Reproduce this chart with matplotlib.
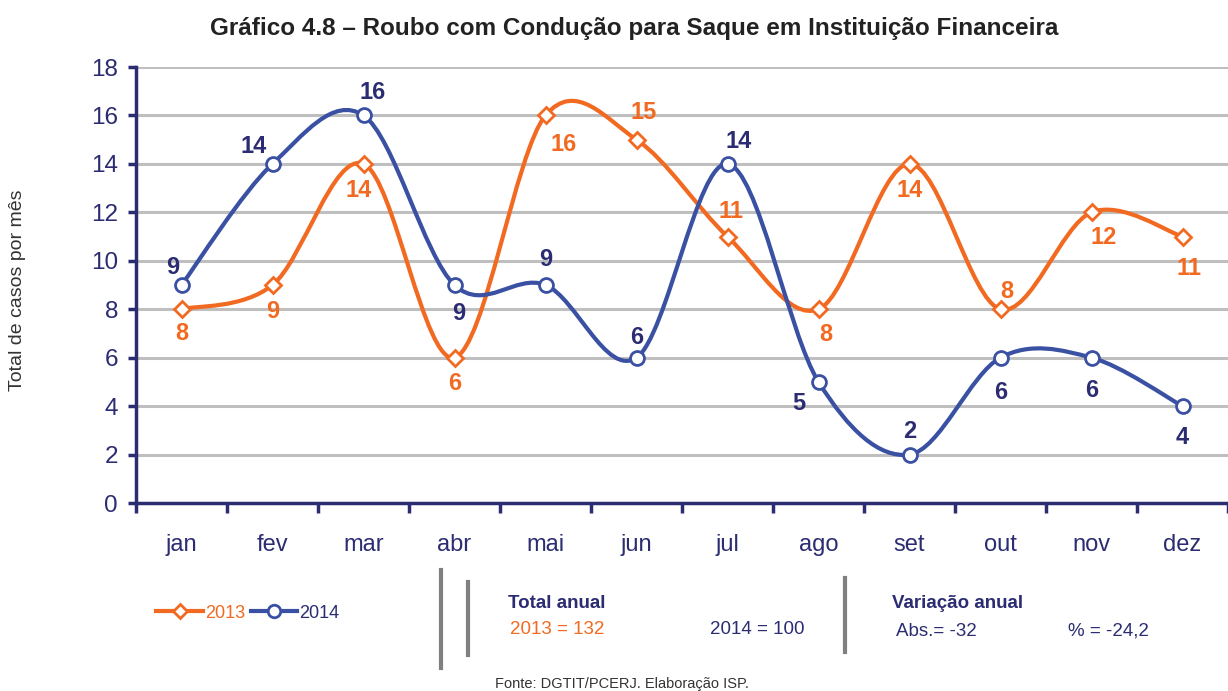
import numpy as np
import matplotlib
matplotlib.use("Agg")
import matplotlib.pyplot as plt
from matplotlib import font_manager
from matplotlib.path import Path
from matplotlib.patches import PathPatch
from matplotlib.lines import Line2D

meses = ["jan", "fev", "mar", "abr", "mai", "jun", "jul", "ago", "set", "out", "nov", "dez"]
casos_2013 = [8, 9, 14, 6, 16, 15, 11, 8, 14, 8, 12, 11]
casos_2014 = [9, 14, 16, 9, 9, 6, 14, 5, 2, 6, 6, 4]
total_2013 = 132
total_2014 = 100
var_abs = -32
var_pct = "-24,2"

# posicao dos rotulos (px)
off_2013 = [(0, -24), (0, -26), (-5, -27), (0, -26), (18, -29), (7, 27),
            (3, 25), (7, -25), (0, -27), (6, 18), (12, -25), (6, -32)]
off_2014 = [(-9, 17), (-19, 17), (9, 23), (4, -28), (0, 25), (0, 20),
            (11, 22), (-20, -22), (0, 23), (0, -35), (0, -33), (0, -31)]

nomes = {f.name for f in font_manager.fontManager.ttflist}
fonte = "DejaVu Sans"
for cand in ["Liberation Sans Narrow", "DejaVu Sans Condensed", "Liberation Sans"]:
    if cand in nomes:
        fonte = cand
        break
plt.rcParams["font.family"] = [fonte, "DejaVu Sans"]

laranja = "#F26A21"
azul = "#3A50A2"
marinho = "#2B2C72"
cinza = "#BFBFBF"


def curva_suave(xs, ys):
    # catmull-rom -> bezier, como a linha suavizada do excel
    pts = np.column_stack([xs, ys]).astype(float)
    verts = [pts[0]]
    codes = [Path.MOVETO]
    n = len(pts)
    for i in range(n - 1):
        p0 = pts[i - 1] if i > 0 else pts[i]
        p1 = pts[i]
        p2 = pts[i + 1]
        p3 = pts[i + 2] if i + 2 < n else pts[i + 1]
        c1 = p1 + (p2 - p0) / 6.0
        c2 = p2 - (p3 - p1) / 6.0
        verts += [c1, c2, p2]
        codes += [Path.CURVE4] * 3
    return Path(verts, codes)


fig = plt.figure(figsize=(12.28, 6.91), dpi=100)
ax = fig.add_axes([136 / 1228, 1 - 503 / 691, 1 - 136 / 1228, (503 - 67) / 691])

x = np.arange(len(meses))
ax.add_patch(PathPatch(curva_suave(x, casos_2013), fill=False, edgecolor=laranja, lw=3, zorder=3))
ax.add_patch(PathPatch(curva_suave(x, casos_2014), fill=False, edgecolor=azul, lw=3, zorder=3))
ax.plot(x, casos_2013, ls="none", marker="D", ms=8, mfc="white", mec=laranja, mew=2, zorder=4)
ax.plot(x, casos_2014, ls="none", marker="o", ms=10, mfc="white", mec=azul, mew=2, zorder=4)

for xi, v, (dx, dy) in zip(x, casos_2013, off_2013):
    ax.annotate(str(v), (xi, v), xytext=(dx, dy), textcoords="offset pixels",
                ha="center", va="center", fontsize=17, color=laranja, fontweight="bold")
for xi, v, (dx, dy) in zip(x, casos_2014, off_2014):
    ax.annotate(str(v), (xi, v), xytext=(dx, dy), textcoords="offset pixels",
                ha="center", va="center", fontsize=17, color=marinho, fontweight="bold")

ax.set_xlim(-0.5, 11.42)
ax.set_ylim(0, 18)
ax.set_yticks(range(0, 19, 2))
ax.set_xticks(x)
ax.set_xticklabels(meses)
ax.set_xticks(np.arange(-0.5, 11.6, 1), minor=True)
ax.yaxis.grid(True, color=cinza, lw=2.2)
ax.set_axisbelow(True)
for s in ["top", "right"]:
    ax.spines[s].set_visible(False)
for s in ["left", "bottom"]:
    ax.spines[s].set_color(marinho)
    ax.spines[s].set_linewidth(2.5)
ax.tick_params(axis="y", colors=marinho, labelsize=17.5, length=6, width=2.5, pad=7)
ax.tick_params(axis="x", which="major", colors=marinho, labelsize=17, length=0, pad=22)
ax.tick_params(axis="x", which="minor", color=marinho, length=7, width=2.5)

fig.text(634 / 1228, 1 - 28 / 691, "Gráfico 4.8 – Roubo com Condução para Saque em Instituição Financeira",
         ha="center", va="center", fontsize=17.5, fontweight="bold", color="#222222")
fig.text(18 / 1228, 1 - 290 / 691, "Total de casos por mês", rotation=90,
         ha="center", va="center", fontsize=14, color="#333333")

# legenda
handles = [Line2D([], [], color=laranja, lw=3, marker="D", ms=7, mfc="white", mec=laranja, mew=2),
           Line2D([], [], color=azul, lw=3, marker="o", ms=9, mfc="white", mec=azul, mew=2)]
leg = fig.legend(handles, ["2013", "2014"], loc="center left",
                 bbox_to_anchor=(140 / 1228, 1 - 613 / 691), ncol=2, frameon=False,
                 handlelength=2.6, handletextpad=0.1, columnspacing=0.3, fontsize=13)
leg.get_texts()[0].set_color(laranja)
leg.get_texts()[1].set_color(marinho)

# quadro de totais
for xv, y0, y1 in [(441, 570, 668), (468, 582, 655), (845, 578, 652)]:
    fig.add_artist(Line2D([xv / 1228, xv / 1228], [1 - y0 / 691, 1 - y1 / 691],
                          color="#808080", lw=3))

fig.text(508 / 1228, 1 - 603 / 691, "Total anual", fontsize=13.5, fontweight="bold",
         color=marinho, va="center")
fig.text(510 / 1228, 1 - 629 / 691, f"2013 = {total_2013}", fontsize=13.5,
         color=laranja, va="center")
fig.text(710 / 1228, 1 - 629 / 691, f"2014 = {total_2014}", fontsize=13.5,
         color=marinho, va="center")
fig.text(892 / 1228, 1 - 604 / 691, "Variação anual", fontsize=13.5, fontweight="bold",
         color=marinho, va="center")
fig.text(896 / 1228, 1 - 631 / 691, f"Abs.= {var_abs}", fontsize=13.5,
         color=marinho, va="center")
fig.text(1068 / 1228, 1 - 631 / 691, f"% = {var_pct}", fontsize=13.5,
         color=marinho, va="center")
fig.text(622 / 1228, 1 - 684 / 691, "Fonte: DGTIT/PCERJ. Elaboração ISP.", fontsize=10.5,
         color="#333333", ha="center", va="center")

fig.savefig("out.png", dpi=100)
